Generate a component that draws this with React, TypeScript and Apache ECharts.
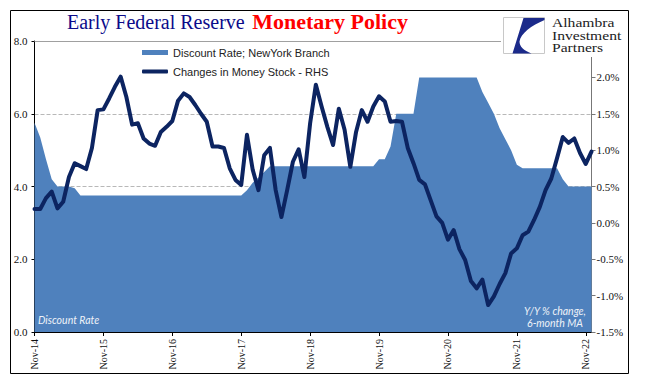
import React, { useEffect, useRef } from "react";
import * as echarts from "echarts";

// Monthly categories: Nov-1914 .. Dec-1922
const MONTH_NAMES = ["Jan", "Feb", "Mar", "Apr", "May", "Jun", "Jul", "Aug", "Sep", "Oct", "Nov", "Dec"];
const START_YEAR = 14;
const START_MONTH = 10; // Nov
const N_MONTHS = 98;
const categories: string[] = [];
for (let k = 0; k < N_MONTHS; k++) {
  const m = (START_MONTH + k) % 12;
  const y = START_YEAR + Math.floor((START_MONTH + k) / 12);
  categories.push(`${MONTH_NAMES[m]}-${y}`);
}

// Discount Rate; New York Branch (left axis, %)
const discountRate: number[] = [
  5.75, 5.35, 4.75, 4.2, 4.0, 4.0, 4.0, 3.95,
  3.75, 3.75, 3.75, 3.75, 3.75, 3.75, 3.75, 3.75, 3.75, 3.75,
  3.75, 3.75, 3.75, 3.75, 3.75, 3.75, 3.75, 3.75, 3.75, 3.75,
  3.75, 3.75, 3.75, 3.75, 3.75, 3.75, 3.75, 3.75, 3.75,
  3.9, 4.1, 4.25, 4.4,
  4.56, 4.56, 4.56, 4.56, 4.56, 4.56, 4.56, 4.56, 4.56, 4.56,
  4.56, 4.56, 4.56, 4.56, 4.56, 4.56, 4.56, 4.56, 4.56,
  4.75, 4.75, 5.1,
  6.0, 6.0, 6.0, 6.0,
  7.0, 7.0, 7.0, 7.0, 7.0, 7.0, 7.0, 7.0, 7.0, 7.0, 7.0,
  6.6, 6.3, 6.0, 5.6, 5.3, 5.0, 4.6,
  4.5, 4.5, 4.5, 4.5, 4.5, 4.5, 4.5,
  4.2,
  4.0, 4.0, 4.0, 4.0, 4.0,
];

// Changes in Money Stock, Y/Y % change, 6-month MA (right axis, %)
const moneyStock: number[] = [
  0.19, 0.19, 0.34, 0.43, 0.2, 0.29, 0.63, 0.82, 0.78, 0.74,
  1.03, 1.55, 1.56, 1.71, 1.87, 2.01, 1.73, 1.35, 1.37, 1.16,
  1.09, 1.06, 1.25, 1.32, 1.4, 1.68, 1.78, 1.73, 1.62, 1.5,
  1.39, 1.05, 1.05, 1.03, 0.75, 0.59, 0.52, 1.21, 0.73, 0.45,
  0.93, 1.03, 0.45, 0.08, 0.45, 0.84, 1.01, 0.63, 1.37, 1.9,
  1.6, 1.32, 1.07, 1.57, 1.28, 0.77, 1.25, 1.55, 1.39, 1.6,
  1.74, 1.67, 1.39, 1.4, 1.39, 1.03, 0.82, 0.59, 0.53, 0.31,
  0.09, 0.0, -0.23, -0.1, -0.36, -0.51, -0.8, -0.9, -0.78, -1.13,
  -1.01, -0.84, -0.69, -0.42, -0.35, -0.17, -0.12, 0.04, 0.22, 0.45,
  0.61, 0.89, 1.18, 1.1, 1.16, 0.96, 0.81, 0.98,
];

const LEFT_MIN = 0, LEFT_MAX = 8, LEFT_STEP = 2;
const RIGHT_MIN = -1.5, RIGHT_MAX = 2.5, RIGHT_STEP = 0.5;

const SERIES_DISCOUNT = "Discount Rate; NewYork Branch";
const SERIES_MONEY = "Changes in Money Stock - RHS";

const AREA_COLOR = "#4f81bd";
const LINE_COLOR = "#0c2461";
const SERIF = "'Liberation Serif', 'Times New Roman', serif";
const SANS = "'Liberation Sans', Arial, sans-serif";

const LOGO_D =
  "M 20 0.5 L 41 0.5 L 41 2.5 C 28 8 17 16 16 24 C 16 29 20 33 28 36 L 9 36 Z";

let logoRegistered = false;

export default function App() {
  const ref = useRef<HTMLDivElement>(null);

  useEffect(() => {
    if (!ref.current) return;
    if (!logoRegistered) {
      echarts.graphic.registerShape("logo", echarts.graphic.extendPath(LOGO_D, {}));
      logoRegistered = true;
    }
    const chart = echarts.init(ref.current, null, { renderer: "svg" });
    const isNov = (i: number) => i % 12 === 0;

    chart.setOption({
      animation: false,
      backgroundColor: "#ffffff",
      grid: { left: 34.5, right: 61.5, top: 41, bottom: 49 },
      legend: [
        {
          data: [{ name: SERIES_DISCOUNT, icon: "rect" }],
          left: 142,
          top: 47,
          padding: 0,
          itemWidth: 26,
          itemHeight: 5,
          selectedMode: false,
          textStyle: { fontFamily: SANS, fontSize: 11, color: "#222" },
        },
        {
          data: [{ name: SERIES_MONEY, icon: "roundRect" }],
          left: 142,
          top: 66,
          padding: 0,
          itemWidth: 26,
          itemHeight: 4,
          selectedMode: false,
          textStyle: { fontFamily: SANS, fontSize: 11, color: "#222" },
        },
      ],
      xAxis: {
        type: "category",
        data: categories,
        boundaryGap: false,
        axisLine: { show: true, lineStyle: { color: "#000", width: 1 } },
        axisTick: { show: true, interval: isNov, length: 4, lineStyle: { color: "#000" } },
        axisLabel: {
          interval: isNov,
          rotate: 90,
          margin: 7,
          fontFamily: SERIF,
          fontSize: 10,
          color: "#111",
        },
        splitLine: { show: false },
      },
      yAxis: [
        {
          type: "value",
          position: "left",
          min: LEFT_MIN,
          max: LEFT_MAX,
          interval: LEFT_STEP,
          axisLine: { show: true, lineStyle: { color: "#000" } },
          axisTick: { show: true, length: 3, lineStyle: { color: "#000" } },
          axisLabel: {
            formatter: (v: number) => v.toFixed(1),
            fontFamily: SERIF,
            fontSize: 11,
            color: "#111",
            margin: 7,
          },
          splitLine: { show: true, lineStyle: { type: "dashed", color: "#b8b8b8", width: 1 } },
        },
        {
          type: "value",
          position: "right",
          min: RIGHT_MIN,
          max: RIGHT_MAX,
          interval: RIGHT_STEP,
          axisLine: { show: true, lineStyle: { color: "#777" } },
          axisTick: { show: true, length: 4, lineStyle: { color: "#777" } },
          axisLabel: {
            formatter: (v: number) => (v > 2.25 ? "" : v.toFixed(1) + "%"),
            fontFamily: SERIF,
            fontSize: 11,
            color: "#111",
            margin: 5,
          },
          splitLine: { show: false },
        },
      ],
      series: [
        {
          name: SERIES_DISCOUNT,
          type: "line",
          yAxisIndex: 0,
          data: discountRate,
          symbol: "none",
          lineStyle: { width: 0, color: AREA_COLOR },
          itemStyle: { color: AREA_COLOR },
          areaStyle: { color: AREA_COLOR, opacity: 1 },
          z: 1,
        },
        {
          name: SERIES_MONEY,
          type: "line",
          yAxisIndex: 1,
          data: moneyStock,
          symbol: "none",
          lineStyle: { width: 4, color: LINE_COLOR, join: "round", cap: "round" },
          itemStyle: { color: LINE_COLOR },
          z: 3,
        },
      ],
      graphic: [
        // top plot border (solid)
        {
          type: "line",
          silent: true,
          z: 4,
          shape: { x1: 34.5, y1: 41.5, x2: 591.5, y2: 41.5 },
          style: { stroke: "#a0a0a0", lineWidth: 1 },
        },
        // white panel behind logo
        {
          type: "rect",
          silent: true,
          z: 50,
          shape: { x: 501, y: 11, width: 127, height: 46 },
          style: { fill: "#ffffff" },
        },
        {
          type: "rect",
          silent: true,
          z: 51,
          shape: { x: 503.5, y: 17.5, width: 41, height: 36 },
          style: { fill: "#ffffff", stroke: "#c8c8c8", lineWidth: 1 },
        },
        {
          type: "logo",
          silent: true,
          z: 52,
          x: 503.5,
          y: 17.5,
          scaleX: 1,
          scaleY: 1,
          style: { fill: "#1b2a8a" },
        },
        {
          type: "text",
          silent: true,
          z: 52,
          x: 552,
          y: 16.5,
          scaleX: 1.25,
          style: {
            text: "Alhambra\nInvestment\nPartners",
            font: `12.5px ${SERIF}`,
            lineHeight: 12.5,
            fill: "#222",
            verticalAlign: "top",
          },
        },
        // Title
        {
          type: "text",
          silent: true,
          z: 52,
          x: 67,
          y: 21.5,
          style: {
            text: "Early Federal Reserve",
            font: `20px ${SERIF}`,
            fill: "#0b0b8a",
            verticalAlign: "middle",
          },
        },
        {
          type: "text",
          silent: true,
          z: 52,
          x: 408,
          y: 21,
          style: {
            text: "Monetary Policy",
            font: `bold 22px ${SERIF}`,
            fill: "#ff0000",
            textAlign: "right",
            verticalAlign: "middle",
          },
        },
        // annotations
        {
          type: "text",
          silent: true,
          z: 20,
          x: 38,
          y: 320,
          style: {
            text: "Discount Rate",
            font: `italic 10.5px Lato, sans-serif`,
            fill: "#eef2f8",
            verticalAlign: "middle",
          },
        },
        {
          type: "text",
          silent: true,
          z: 20,
          x: 555,
          y: 317,
          style: {
            text: "Y/Y % change,\n6-month MA",
            font: `italic 10.5px Lato, sans-serif`,
            lineHeight: 12.5,
            fill: "#eef2f8",
            align: "center",
            textAlign: "center",
            verticalAlign: "middle",
          },
        },
        // outer frame
        {
          type: "rect",
          silent: true,
          z: 100,
          shape: { x: 10.5, y: 10.5, width: 618, height: 363 },
          style: { fill: "none", stroke: "#000", lineWidth: 1 },
        },
      ],
    });

    return () => chart.dispose();
  }, []);

  return (
    <div
      ref={ref}
      style={{ position: "fixed", left: 0, top: 0, width: 653, height: 381, background: "#fff" }}
    />
  );
}
